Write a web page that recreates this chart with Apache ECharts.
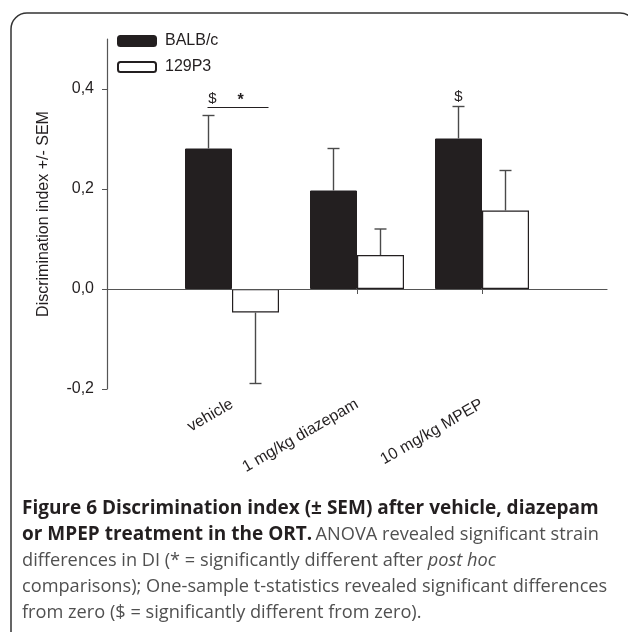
<!DOCTYPE html>
<html>
<head>
<meta charset="utf-8">
<script src="https://cdn.jsdelivr.net/npm/echarts@6/dist/echarts.min.js"></script>
<style>html,body{margin:0;padding:0;background:#fff}#c{width:628px;height:632px}</style>
</head>
<body>
<div id="c"></div>
<script>
const categories = ['vehicle', '1 mg/kg diazepam', '10 mg/kg MPEP'];
const seriesNames = ['BALB/c', '129P3'];
const balbMean = [0.281, 0.197, 0.301];
const balbSEM = [0.066, 0.084, 0.064];
const p129Mean = [-0.047, 0.068, 0.157];
const p129SEM = [0.142, 0.052, 0.080];
const yTicks = [-0.2, 0, 0.2, 0.4];
const diffFromZero = [true, false, true];   // "$" for BALB/c
const strainDiff = [true, false, false];    // "*"

const xData = [''].concat(categories, ['']);
const pad = arr => [null].concat(arr, [null]);
const errRows = (mean, sem) => mean.map((m, i) => [i + 1, m, sem[i]]);

const BW = 47;
const FONT = 'Liberation Sans';
const INK = '#231f20';

function errRender(side) {
  return function (params, api) {
    const x = api.value(0), m = api.value(1), s = api.value(2);
    const end = m >= 0 ? m + s : m - s;
    const p0 = api.coord([x, m]);
    const p1 = api.coord([x, end]);
    const cx = p0[0] + side * BW / 2;
    const st = { stroke: '#4a4a4a', lineWidth: 1.4 };
    return { type: 'group', children: [
      { type: 'line', shape: { x1: cx, y1: p0[1], x2: cx, y2: p1[1] }, style: st },
      { type: 'line', shape: { x1: cx - 6, y1: p1[1], x2: cx + 6, y2: p1[1] }, style: st }
    ]};
  };
}

const sigRows = categories.map((c, i) => [i + 1, balbMean[i] + balbSEM[i], diffFromZero[i] ? 1 : 0, strainDiff[i] ? 1 : 0]);

const chart = echarts.init(document.getElementById('c'), null, { renderer: 'canvas' });
chart.setOption({
  animation: false,
  textStyle: { fontFamily: FONT },
  grid: { left: 107, right: 21, top: 39, bottom: 243 },
  legend: {
    data: seriesNames, orient: 'vertical', left: 117, top: 33, padding: 0,
    itemWidth: 38, itemHeight: 10, itemGap: 10,
    textStyle: { fontFamily: FONT, fontSize: 16, color: INK, padding: [0, 0, 0, 4] }
  },
  xAxis: {
    type: 'category', data: xData, boundaryGap: false,
    axisLine: { lineStyle: { color: '#555', width: 1.2 } },
    axisTick: { length: 5, interval: (i) => i >= 1 && i <= 3, lineStyle: { color: '#555' } },
    axisLabel: { rotate: 30, margin: 14, interval: 0, fontFamily: FONT, fontSize: 16, color: INK },
    splitLine: { show: false }
  },
  yAxis: {
    type: 'value', min: -0.2, max: 0.5, interval: 0.2,
    name: 'Discrimination index +/- SEM', nameLocation: 'middle', nameGap: 55,
    nameTextStyle: { fontFamily: FONT, fontSize: 16, color: INK },
    axisLine: { show: true, lineStyle: { color: '#555', width: 1.2 } },
    axisTick: { show: true, length: 5, customValues: yTicks, lineStyle: { color: '#555' } },
    axisLabel: { customValues: yTicks, margin: 13, fontFamily: FONT, fontSize: 16, color: INK,
      formatter: v => v.toFixed(1).replace('.', ',') },
    splitLine: { show: false }
  },
  series: [
    { name: seriesNames[0], type: 'bar', data: pad(balbMean), barWidth: BW, barGap: '0%',
      itemStyle: { color: INK, borderColor: INK, borderWidth: 1 },
      markLine: { silent: true, symbol: 'none', label: { show: false },
        lineStyle: { color: '#555', type: 'solid', width: 1.2 }, data: [{ yAxis: 0 }] } },
    { name: seriesNames[1], type: 'bar', data: pad(p129Mean), barWidth: BW, barGap: '0%',
      itemStyle: { color: '#fff', borderColor: INK, borderWidth: 1.2 } },
    { type: 'custom', data: errRows(balbMean, balbSEM), renderItem: errRender(-1), z: 5, silent: true },
    { type: 'custom', data: errRows(p129Mean, p129SEM), renderItem: errRender(1), z: 5, silent: true },
    { type: 'custom', data: sigRows, z: 6, silent: true,
      renderItem: function (params, api) {
        const p = api.coord([api.value(0), api.value(1)]);
        const cx = p[0] - BW / 2;
        const children = [];
        const ts = { fontFamily: FONT, fontSize: 15, fill: INK, align: 'center', verticalAlign: 'middle' };
        if (api.value(3)) {
          const ly = p[1] - 8;
          children.push({ type: 'line', shape: { x1: cx - 1, y1: ly, x2: cx + 60, y2: ly }, style: { stroke: INK, lineWidth: 1.2 } });
          if (api.value(2)) children.push({ type: 'text', x: cx + 4, y: ly - 9, style: Object.assign({ text: '$' }, ts) });
          children.push({ type: 'text', x: cx + 32, y: ly - 7, style: Object.assign({ text: '*' }, ts, { fontSize: 16, fontWeight: 'bold' }) });
        } else if (api.value(2)) {
          children.push({ type: 'text', x: cx, y: p[1] - 10, style: Object.assign({ text: '$' }, ts) });
        }
        return { type: 'group', children };
      } }
  ],
  graphic: [
    { type: 'rect', shape: { x: 11, y: 13, width: 625, height: 640, r: 16 }, style: { fill: 'none', stroke: '#333', lineWidth: 1.5 }, silent: true },
    { type: 'text', left: 22, top: 496, style: {
      text: '{b|Figure 6 Discrimination index (\u00b1 SEM) after vehicle, diazepam}\n' +
            '{b|or MPEP treatment in the ORT.} {n|ANOVA revealed significant strain}\n' +
            '{n|differences in DI (* = significantly different after }{i|post hoc}\n' +
            '{n|comparisons); One-sample t-statistics revealed significant differences}\n' +
            '{n|from zero ($ = significantly different from zero).}',
      lineHeight: 26,
      rich: {
        b: { fontFamily: 'Open Sans', fontWeight: 'bold', fontSize: 19, fill: INK, lineHeight: 26 },
        n: { fontFamily: 'Open Sans', fontSize: 18.2, fill: '#505050', lineHeight: 26 },
        i: { fontFamily: 'Open Sans', fontStyle: 'italic', fontSize: 18.2, fill: '#505050', lineHeight: 26 }
      }
    } }
  ]
});
</script>
</body>
</html>
